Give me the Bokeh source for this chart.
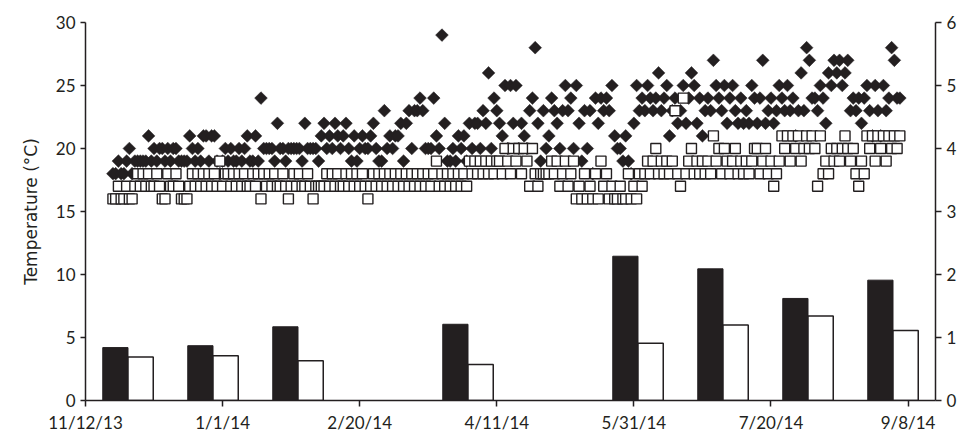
from bokeh.plotting import figure
from bokeh.models import Range1d, LinearAxis, FixedTicker, ColumnDataSource
from bokeh.transform import dodge
from bokeh.embed import file_html
from bokeh.resources import INLINE
import numpy as np

# ---------------- data ----------------
first_day = 10  # days after 11/12/13

# daily temperature, filled diamonds (deg C)
temp_diamond = [
    18,18,19,18,18,19,20,18,19,19,
    19,19,19,21,19,20,19,20,20,19,
    20,19,20,20,19,19,19,19,21,20,
    19,20,19,21,21,19,21,21,19,18,
    19,20,19,20,19,19,20,19,20,21,
    19,19,21,19,24,20,20,20,20,19,
    22,20,20,19,20,20,20,20,20,19,
    22,20,20,20,20,19,21,22,20,21,
    20,22,21,20,21,22,20,19,21,19,
    20,21,20,20,21,22,20,19,19,23,
    20,21,20,21,21,22,19,22,23,20,
    23,23,24,23,20,20,20,24,21,20,
    29,22,19,19,20,19,21,20,21,19,
    22,20,22,22,20,23,22,26,20,24,
    23,22,21,25,20,25,22,25,20,22,
    21,20,23,24,28,22,19,23,20,21,
    24,23,22,20,23,25,23,24,20,25,
    22,19,23,20,23,18,24,22,24,23,
    24,23,25,21,20,20,19,21,19,18,
    22,25,23,24,23,25,24,23,24,26,
    23,24,25,21,23,24,22,23,25,22,
    24,26,25,22,24,21,23,24,23,27,
    25,24,23,25,22,24,25,23,22,24,
    22,23,22,25,24,22,24,27,22,23,
    24,22,23,25,24,23,25,23,24,21,
    23,26,23,28,27,24,24,23,25,24,
    22,26,25,27,26,27,25,26,27,23,
    24,23,24,22,24,25,23,21,25,23,
    21,25,23,24,28,27,24,24,
]

# daily temperature, open squares (deg C)
temp_square = [
    16,16,17,16,16,17,16,16,17,18,
    17,18,17,18,17,17,18,17,16,16,
    18,17,17,18,17,16,16,16,17,18,
    17,18,17,18,17,18,17,18,17,19,
    17,18,18,17,18,17,18,17,18,17,
    17,18,17,18,16,18,17,18,17,18,
    17,17,18,17,16,17,18,17,18,17,
    17,18,17,16,17,17,17,17,18,17,
    18,17,18,17,17,18,17,18,17,18,
    17,18,17,16,17,18,17,18,17,18,
    17,18,17,18,17,18,17,18,17,18,
    17,18,17,18,17,18,17,18,19,17,
    18,17,18,17,18,17,18,17,18,17,
    19,18,19,18,19,18,19,18,19,18,
    19,19,18,20,19,18,20,19,20,18,
    20,19,17,20,18,17,18,18,18,18,
    19,18,19,17,18,19,17,18,19,16,
    17,16,18,16,17,16,18,16,19,17,
    18,16,17,16,16,17,16,16,18,16,
    17,16,18,17,18,19,18,19,20,18,
    19,18,19,18,19,23,18,17,24,18,
    19,20,18,19,18,19,18,19,18,21,
    19,20,18,20,19,18,19,20,18,19,
    18,19,18,19,20,20,18,19,20,18,
    19,17,18,19,21,20,21,19,21,20,
    21,19,20,21,20,21,20,17,21,18,
    19,18,20,19,20,19,20,21,20,19,
    20,18,17,19,18,21,20,21,19,21,
    20,21,19,21,20,21,20,21,
]

# monthly bars (right axis)
months = ["Nov", "Dec", "Jan", "Feb", "Mar", "Apr", "May", "Jun", "Jul", "Aug"]
bar_black = [0.84, 0.87, 1.17, None, 1.21, None, 2.29, 2.09, 1.62, 1.91]
bar_white = [0.69, 0.71, 0.63, None, 0.57, None, 0.91, 1.20, 1.34, 1.11]

x_tick_days = [0, 50, 100, 150, 200, 250, 300]
x_tick_labels = ["11/12/13", "1/1/14", "2/20/14", "4/11/14", "5/31/14", "7/20/14", "9/8/14"]
x_end_day = 310

# ---------------- figure ----------------
INK = "#231f20"
TICK_FONT = "Lato"

p = figure(width=965, height=440, output_backend="svg", toolbar_location=None,
           x_range=Range1d(0, x_end_day), y_range=Range1d(0, 30),
           min_border_left=85, min_border_right=30, min_border_top=22, min_border_bottom=40)
p.extra_y_ranges = {"right": Range1d(0, 6)}
# secondary (category) x axis: one unit per month, spanning the same frame
p.extra_x_ranges = {"months": Range1d(0, len(months))}
p.outline_line_color = None
p.xgrid.grid_line_color = None
p.ygrid.grid_line_color = None
p.background_fill_color = "white"
p.border_fill_color = "white"

# bars
bw = 0.297
def bar_source(vals):
    return ColumnDataSource({
        "pos": [i + 0.5 for i, v in enumerate(vals) if v is not None],
        "v": [v for v in vals if v is not None],
    })
p.vbar(x=dodge("pos", -bw / 2), top="v", bottom=0, width=bw,
       source=bar_source(bar_black), x_range_name="months", y_range_name="right",
       fill_color=INK, line_color=INK, line_width=1)
p.vbar(x=dodge("pos", bw / 2), top="v", bottom=0, width=bw,
       source=bar_source(bar_white), x_range_name="months", y_range_name="right",
       fill_color="white", line_color=INK, line_width=1.5)

# scatter
days_d = list(range(first_day, first_day + len(temp_diamond)))
days_s = list(range(first_day, first_day + len(temp_square)))
p.scatter(days_d, temp_diamond, marker="square", angle=np.pi / 4, size=9,
          fill_color=INK, line_color=INK, line_width=0.5)
p.scatter(days_s, temp_square, marker="square", size=10,
          fill_color="white", line_color=INK, line_width=1.4)

# axes
p.xaxis.ticker = FixedTicker(ticks=x_tick_days)
p.xaxis.major_label_overrides = {d: l for d, l in zip(x_tick_days, x_tick_labels)}
p.xaxis.minor_tick_line_color = None
p.xaxis.major_tick_out = 6
p.xaxis.major_tick_in = 0

p.yaxis.ticker = FixedTicker(ticks=[0, 5, 10, 15, 20, 25, 30])
p.yaxis.minor_tick_line_color = None
p.yaxis.major_tick_out = 5
p.yaxis.major_tick_in = 0
p.yaxis.axis_label = "Temperature (\u00b0C)"

ry = LinearAxis(y_range_name="right", ticker=FixedTicker(ticks=[0, 1, 2, 3, 4, 5, 6]))
ry.minor_tick_line_color = None
ry.major_tick_out = 6
ry.major_tick_in = 0
p.add_layout(ry, "right")

for ax in [p.xaxis[0], p.yaxis[0], ry]:
    ax.axis_line_color = INK
    ax.axis_line_width = 1.5
    ax.major_tick_line_color = INK
    ax.major_tick_line_width = 1.5
    ax.major_label_text_font = TICK_FONT
    ax.major_label_text_font_size = "17px"
    ax.major_label_text_color = INK
    ax.major_label_standoff = 5

p.yaxis[0].axis_label_text_font = "DejaVu Sans"
p.yaxis[0].axis_label_text_font_style = "normal"
p.yaxis[0].axis_label_text_font_size = "17px"
p.yaxis[0].axis_label_text_color = INK
p.yaxis[0].axis_label_standoff = 12

open("out.html", "w").write(file_html(p, INLINE))
